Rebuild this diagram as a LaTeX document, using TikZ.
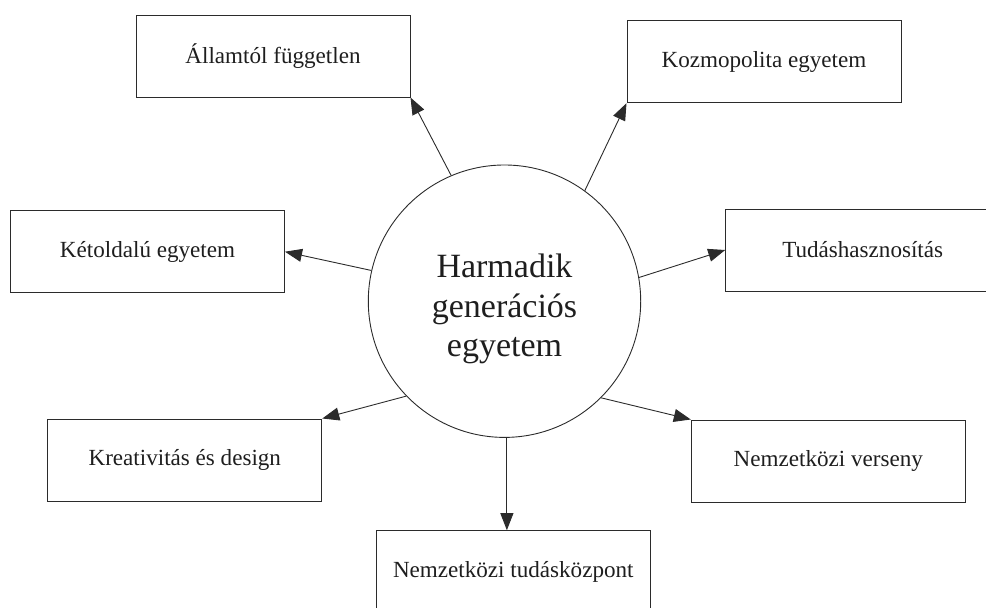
\documentclass[tikz,border=0pt]{standalone}
\usepackage{fontspec}
\setmainfont{Liberation Serif}
\usetikzlibrary{arrows.meta}
\definecolor{linegray}{HTML}{2B2B2B}
\definecolor{textgray}{HTML}{1E1E1E}
\begin{document}
\begin{tikzpicture}[x=1pt,y=-1pt,
  box/.style={draw=linegray, line width=1pt, minimum width=274pt, minimum height=82pt,
    inner sep=0pt, font=\fontsize{23.1}{27}\selectfont, text=textgray},
  hub/.style={circle, draw=linegray, line width=0.9pt, minimum size=272.4pt, inner sep=0pt},
  hubtext/.style={align=center, inner sep=0pt, font=\fontsize{34}{39.5}\selectfont, text=textgray},
  link/.style={draw=linegray, line width=0.9pt, -{Triangle[length=17pt,width=13pt]}}]
\useasboundingbox (0,0) rectangle (986,608);

% central idea
\node[hub] (c) at (504.5,301.2) {};
\node[hubtext] (ct) at (504.5,309) {Harmadik\\generációs\\egyetem};

% surrounding features
\node[box] (b1) at (273,56)     {Államtól független};
\node[box] (b2) at (764,61.7)   {Kozmopolita egyetem};
\node[box] (b3) at (147.5,251.7){Kétoldalú egyetem};
\node[box] (b4) at (862.7,250)  {Tudáshasznosítás};
\node[box] (b5) at (184.8,460)  {Kreativitás és design};
\node[box] (b6) at (828.3,461)  {Nemzetközi verseny};
\node[box] (b7) at (513.3,571.7){Nemzetközi tudásközpont};

% arrows from the hub to each feature
\draw[link] (c.113) -- (b1.south east);
\draw[link] (c.54)  -- (b2.south west);
\draw[link] (c.167) -- (b3.east);
\draw[link] (c.10)  -- (b4.west);
\draw[link] (c.224) -- (b5.north east);
\draw[link] (c.315) -- (b6.north west);
\draw[link] (c.271) -- (c.271 |- b7.north);
\end{tikzpicture}
\end{document}
